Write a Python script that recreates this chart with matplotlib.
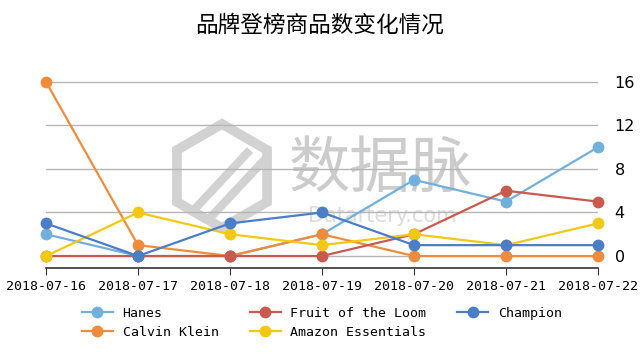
import matplotlib
matplotlib.use("Agg")
from matplotlib import pyplot as plt
from matplotlib.patches import RegularPolygon

dates = ["2018-07-16", "2018-07-17", "2018-07-18", "2018-07-19",
         "2018-07-20", "2018-07-21", "2018-07-22"]
hanes = [2, 0, 0, 2, 7, 5, 10]
fruit = [0, 0, 0, 0, 2, 6, 5]
champion = [3, 0, 3, 4, 1, 1, 1]
calvin = [16, 1, 0, 2, 0, 0, 0]
amazon = [0, 4, 2, 1, 2, 1, 3]
yticks = [0, 4, 8, 12, 16]

plt.rcParams['font.family'] = ['DejaVu Sans Mono', 'Noto Sans CJK SC']

fig = plt.figure(figsize=(6.4, 3.57), dpi=100)

# watermark layer (pixel coordinates)
bg = fig.add_axes([0, 0, 1, 1], zorder=0)
bg.set_xlim(0, 640)
bg.set_ylim(357, 0)
bg.axis("off")
hexa = RegularPolygon((222, 176), numVertices=6, radius=52, orientation=0,
                      fill=False, edgecolor="#d2d2d2", lw=7)
bg.add_patch(hexa)
bg.plot([192, 250], [212, 150], color="#d2d2d2", lw=6, solid_capstyle="butt")
bg.plot([210, 268], [218, 156], color="#d2d2d2", lw=6, solid_capstyle="butt")
bg.text(380, 170, "数据脉", family="Noto Sans CJK SC", fontsize=44,
        color="#cccccc", ha="center", va="center")
bg.text(382, 216, "Datartery.com", family="DejaVu Sans", fontsize=15,
        color="#dcdcdc", ha="center", va="center")

ax = fig.add_axes([0.0719, 0.2493, 0.8625, 0.5518], zorder=1)
ax.patch.set_alpha(0)

x = list(range(len(dates)))
series = [
    ("Hanes", hanes, "#72b0dc"),
    ("Calvin Klein", calvin, "#ef8c3c"),
    ("Fruit of the Loom", fruit, "#c95a50"),
    ("Amazon Essentials", amazon, "#f2c811"),
    ("Champion", champion, "#4a7ec6"),
]
for name, vals, col in series:
    ax.plot(x, vals, color=col, lw=1.6, marker='o', markersize=7.5,
            label=name, clip_on=False)

ax.set_xlim(0, 6)
ax.set_ylim(-1.1, 17)
ax.set_xticks(x)
ax.set_xticklabels(dates, fontsize=9.5)
ax.set_yticks(yticks)
ax.set_yticklabels([str(v) for v in yticks], family="DejaVu Sans", fontsize=11.5)
ax.yaxis.tick_right()
ax.tick_params(axis='y', length=0, pad=12)
ax.tick_params(axis='x', length=5, direction='out', color="#333333", pad=4)
ax.grid(axis='y', color="#b5b5b5", lw=1)
ax.set_axisbelow(True)
for s in ["top", "left", "right"]:
    ax.spines[s].set_visible(False)
ax.spines["bottom"].set_color("#333333")
ax.spines["bottom"].set_linewidth(1.2)

fig.text(0.5, 0.93, "品牌登榜商品数变化情况", family="Noto Sans CJK SC",
         fontsize=16.3, ha="center", va="center")

ax.legend(ncol=3, loc="upper center", bbox_to_anchor=(0.5, -0.165),
          frameon=False, fontsize=9.5, handlelength=2.35, handletextpad=0.75,
          columnspacing=2.35, labelspacing=0.45, borderpad=0)

fig.savefig("out.png", dpi=100)
